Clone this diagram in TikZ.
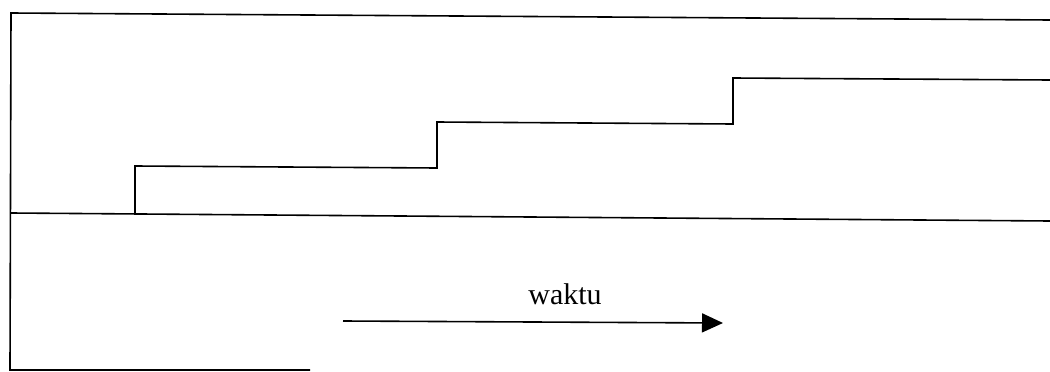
\documentclass[tikz,border=0pt]{standalone}
\usepackage{fontspec}
\setmainfont{Liberation Serif}
\usetikzlibrary{arrows.meta}
\begin{document}
\begin{tikzpicture}[x=1pt,y=-1pt,
  frame/.style={line width=1.6pt,black},
  stair/.style={line width=1.6pt,black,line join=miter},
  timearrow/.style={line width=1.6pt,black,-{Triangle[length=21pt,width=19pt]}},
  lbl/.style={font=\fontsize{30}{36}\selectfont,inner sep=0pt,anchor=base}]
\useasboundingbox (0,0) rectangle (1050,372);
% frame coordinates
\coordinate (TL) at (11,13);
\coordinate (TR) at (1050,20);
\coordinate (ML) at (11,213);
\coordinate (MR) at (1050,221);
\coordinate (BL) at (10,370);
\coordinate (BR) at (310,370);
% stair coordinates
\coordinate (S0) at (135,214);
\coordinate (S1) at (135,166);
\coordinate (S2) at (437,168);
\coordinate (S3) at (437,122);
\coordinate (S4) at (733,124);
\coordinate (S5) at (733,78);
\coordinate (S6) at (1050,80);
% arrow
\coordinate (A0) at (343,321);
\coordinate (A1) at (723,323);
\draw[frame] (TR) -- (TL) -- (BL) -- (BR);
\draw[frame] (ML) -- (MR);
\draw[stair] (S0) -- (S1) -- (S2) -- (S3) -- (S4) -- (S5) -- (S6);
\draw[timearrow] (A0) -- (A1);
\node[lbl] (waktu) at (565,304) {waktu};
\end{tikzpicture}
\end{document}
